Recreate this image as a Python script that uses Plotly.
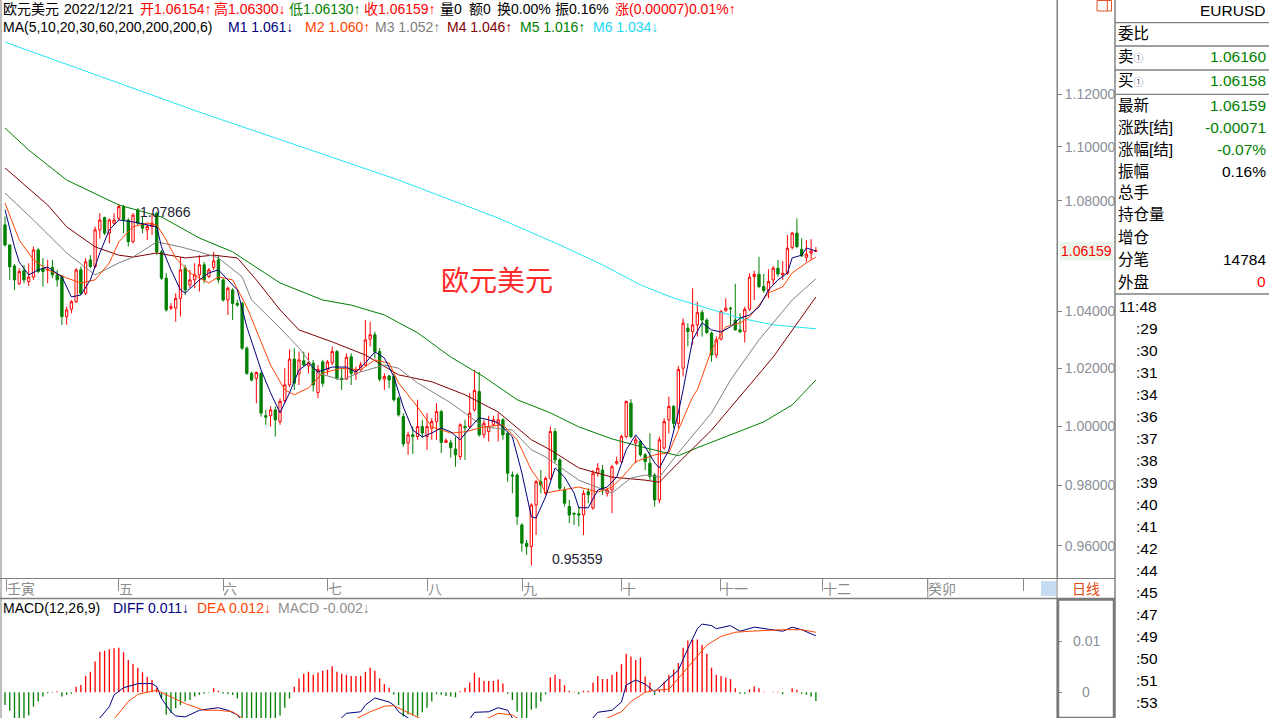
import math
import plotly.graph_objects as go

# ---------------- data (daily EURUSD) ----------------
open_ = [1.0711, 1.0638, 1.0562, 1.0498, 1.0545, 1.0506, 1.0522, 1.0620, 1.0554, 1.0547,
         1.0557, 1.0530, 1.0524, 1.0381, 1.0407, 1.0434, 1.0548, 1.0464, 1.0584, 1.0560,
         1.0693, 1.0738, 1.0681, 1.0717, 1.0735, 1.0778, 1.0729, 1.0650, 1.0766, 1.0717,
         1.0693, 1.0705, 1.0754, 1.0613, 1.0518, 1.0411, 1.0411, 1.0446, 1.0554, 1.0494,
         1.0512, 1.0530, 1.0566, 1.0524, 1.0557, 1.0584, 1.0512, 1.0440, 1.0476, 1.0428,
         1.0428, 1.0270, 1.0182, 1.0165, 1.0182, 1.0036, 1.0036, 1.0056, 1.0016, 1.0088,
         1.0142, 1.0232, 1.0180, 1.0226, 1.0208, 1.0217, 1.0116, 1.0222, 1.0194, 1.0219,
         1.0258, 1.0165, 1.0162, 1.0240, 1.0180, 1.0194, 1.0211, 1.0302, 1.0317, 1.0258,
         1.0162, 1.0173, 1.0171, 1.0096, 1.0033, 0.9943, 0.9971, 0.9965, 0.9999, 0.9965,
         0.9993, 1.0016, 1.0050, 0.9945, 0.9944, 0.9923, 0.9897, 0.9999, 0.9999, 1.0056,
         1.0119, 0.9971, 0.9982, 1.0005, 1.0008, 1.0022, 0.9976, 0.9835, 0.9835, 0.9669,
         0.9609, 0.9598, 0.9735, 0.9813, 0.9774, 0.9824, 0.9982, 0.9886, 0.9785, 0.9730,
         0.9708, 0.9706, 0.9702, 0.9779, 0.9725, 0.9841, 0.9852, 0.9774, 0.9785, 0.9875,
         0.9880, 0.9965, 1.0079, 0.9943, 0.9948, 0.9903, 0.9875, 0.9835, 0.9752, 0.9926,
         1.0022, 1.0068, 1.0010, 1.0200, 1.0340, 1.0328, 1.0352, 1.0396, 1.0369, 1.0323,
         1.0246, 1.0302, 1.0402, 1.0411, 1.0369, 1.0334, 1.0328, 1.0407, 1.0524, 1.0532,
         1.0488, 1.0474, 1.0512, 1.0554, 1.0530, 1.0536, 1.0629, 1.0681, 1.0622, 1.0593,
         1.0608, 1.06154]
high = [1.0741, 1.0640, 1.0569, 1.0554, 1.0566, 1.0572, 1.0632, 1.0626, 1.0590, 1.0584,
        1.0584, 1.0548, 1.0530, 1.0416, 1.0440, 1.0554, 1.0560, 1.0590, 1.0601, 1.0705,
        1.0754, 1.0741, 1.0735, 1.0754, 1.07866, 1.0784, 1.0735, 1.0754, 1.0772, 1.0741,
        1.0717, 1.0754, 1.0759, 1.0620, 1.0536, 1.0429, 1.0464, 1.0595, 1.0566, 1.0548,
        1.0572, 1.0601, 1.0577, 1.0554, 1.0613, 1.0601, 1.0518, 1.0488, 1.0482, 1.0440,
        1.0434, 1.0276, 1.0188, 1.0188, 1.0188, 1.0056, 1.0068, 1.0068, 1.0096, 1.0200,
        1.0266, 1.0270, 1.0258, 1.0258, 1.0254, 1.0229, 1.0211, 1.0229, 1.0229, 1.0276,
        1.0264, 1.0200, 1.0252, 1.0252, 1.0205, 1.0222, 1.0369, 1.0363, 1.0328, 1.0270,
        1.0182, 1.0177, 1.0182, 1.0102, 1.0045, 0.9982, 0.9999, 1.0091, 1.0022, 1.0045,
        1.0028, 1.0079, 1.0056, 0.9959, 0.9954, 0.9965, 1.0010, 1.0022, 1.0114, 1.0194,
        1.0188, 1.0022, 1.0036, 1.0036, 1.0045, 1.0028, 0.9982, 0.9847, 0.9841, 0.9675,
        0.9620, 0.9741, 0.9818, 0.9852, 0.9830, 0.9999, 0.9993, 0.9892, 0.9796, 0.9752,
        0.9709, 0.9730, 0.9785, 0.9791, 0.9852, 0.9875, 0.9869, 0.9791, 0.9869, 0.9897,
        0.9971, 1.0088, 1.0093, 0.9965, 0.9954, 0.9909, 0.9976, 0.9841, 0.9965, 1.0028,
        1.0102, 1.0073, 1.0207, 1.0375, 1.0358, 1.0482, 1.0434, 1.0405, 1.0375, 1.0328,
        1.0311, 1.0405, 1.0446, 1.0416, 1.0498, 1.0393, 1.0416, 1.0536, 1.0545, 1.0595,
        1.0533, 1.0550, 1.0562, 1.0584, 1.0580, 1.0674, 1.0686, 1.0735, 1.0662, 1.0656,
        1.0659, 1.06300]
low = [1.0632, 1.0512, 1.0476, 1.0494, 1.0500, 1.0490, 1.0512, 1.0536, 1.0488, 1.0500,
       1.0518, 1.0488, 1.0352, 1.0352, 1.0393, 1.0429, 1.0458, 1.0458, 1.0554, 1.0554,
       1.0662, 1.0674, 1.0644, 1.0711, 1.0726, 1.0681, 1.0632, 1.0644, 1.0711, 1.0681,
       1.0656, 1.0674, 1.0601, 1.0512, 1.0399, 1.0405, 1.0363, 1.0381, 1.0458, 1.0482,
       1.0482, 1.0470, 1.0500, 1.0518, 1.0548, 1.0500, 1.0434, 1.0387, 1.0369, 1.0416,
       1.0264, 1.0177, 1.0154, 1.0079, 1.0033, 1.0005, 0.9999, 0.9965, 1.0005, 1.0079,
       1.0134, 1.0125, 1.0142, 1.0208, 1.0182, 1.0119, 1.0096, 1.0136, 1.0177, 1.0211,
       1.0159, 1.0125, 1.0159, 1.0142, 1.0159, 1.0188, 1.0205, 1.0276, 1.0234, 1.0154,
       1.0125, 1.0131, 1.0085, 1.0033, 0.9931, 0.9903, 0.9906, 0.9954, 0.9960, 0.9920,
       0.9954, 0.9954, 0.9909, 0.9943, 0.9893, 0.9863, 0.9886, 0.9886, 0.9993, 1.0050,
       0.9965, 0.9959, 0.9948, 0.9999, 0.9948, 0.9954, 0.9813, 0.9774, 0.9669, 0.9581,
       0.9571, 0.95359, 0.9636, 0.9774, 0.9769, 0.9818, 0.9875, 0.9785, 0.9730, 0.9675,
       0.9669, 0.9664, 0.9636, 0.9741, 0.9719, 0.9830, 0.9769, 0.9763, 0.9708, 0.9869,
       0.9875, 0.9959, 0.9959, 0.9875, 0.9897, 0.9852, 0.9818, 0.9730, 0.9741, 0.9920,
       0.9976, 0.9993, 0.9994, 1.0171, 1.0276, 1.0282, 1.0311, 1.0311, 1.0320, 1.0223,
       1.0235, 1.0297, 1.0399, 1.0352, 1.0332, 1.0323, 1.0290, 1.0402, 1.0440, 1.0482,
       1.0466, 1.0446, 1.0494, 1.0524, 1.0512, 1.0530, 1.0622, 1.0626, 1.0595, 1.0577,
       1.0584, 1.06130]
close = [1.0638, 1.0559, 1.0512, 1.0542, 1.0512, 1.0522, 1.0620, 1.0542, 1.0542, 1.0549,
         1.0530, 1.0512, 1.0381, 1.0405, 1.0434, 1.0548, 1.0464, 1.0577, 1.0560, 1.0693,
         1.0729, 1.0681, 1.0729, 1.0729, 1.0778, 1.0729, 1.0650, 1.0747, 1.0717, 1.0699,
         1.0705, 1.0717, 1.0613, 1.0518, 1.0405, 1.0416, 1.0446, 1.0548, 1.0476, 1.0512,
         1.0530, 1.0566, 1.0512, 1.0548, 1.0580, 1.0512, 1.0440, 1.0482, 1.0428, 1.0422,
         1.0270, 1.0182, 1.0159, 1.0185, 1.0045, 1.0031, 1.0056, 1.0022, 1.0085, 1.0142,
         1.0232, 1.0148, 1.0229, 1.0211, 1.0219, 1.0142, 1.0196, 1.0148, 1.0222, 1.0258,
         1.0165, 1.0162, 1.0238, 1.0182, 1.0191, 1.0211, 1.0299, 1.0317, 1.0258, 1.0162,
         1.0171, 1.0159, 1.0091, 1.0039, 0.9940, 0.9971, 0.9965, 0.9999, 0.9977, 0.9999,
         1.0016, 1.0050, 0.9945, 0.9951, 0.9927, 0.9903, 1.0005, 0.9995, 1.0045, 1.0123,
         0.9971, 1.0010, 0.9999, 1.0022, 1.0022, 0.9971, 0.9841, 0.9832, 0.9697, 0.9609,
         0.9598, 0.9735, 0.9813, 0.9802, 0.9824, 0.9982, 0.9886, 0.9791, 0.9741, 0.9702,
         0.9705, 0.9702, 0.9774, 0.9769, 0.9841, 0.9858, 0.9785, 0.9785, 0.9863, 0.9880,
         0.9965, 1.0085, 0.9965, 0.9954, 0.9903, 0.9880, 0.9830, 0.9752, 0.9954, 1.0016,
         1.0068, 1.0010, 1.0196, 1.0358, 1.0328, 1.0352, 1.0395, 1.0369, 1.0325, 1.0246,
         1.0299, 1.0399, 1.0411, 1.0409, 1.0334, 1.0328, 1.0407, 1.0522, 1.0532, 1.0488,
         1.0474, 1.0506, 1.0554, 1.0533, 1.0536, 1.0626, 1.0681, 1.0632, 1.0598, 1.0605,
         1.0616, 1.06159]

# moving averages, read at sample bars (bar index, value)
ma5_idx = [0, 2, 3, 5, 7, 9, 12, 14, 16, 18, 20, 22, 24, 27, 30, 32, 33, 35, 37, 38,
           41, 43, 45, 47, 49, 51, 54, 56, 58, 60, 62, 64, 66, 69, 72, 74, 76, 78, 80, 82,
           84, 86, 88, 90, 92, 94, 96, 98, 100, 102, 104, 107, 109, 111, 112, 114, 116, 118, 120, 121,
           123, 125, 127, 129, 131, 133, 135, 137, 138, 140, 142, 143, 145, 147, 149, 151, 153, 155, 157, 159,
           161, 163, 165, 166, 168, 169, 171]
ma5_val = [1.0766, 1.0631, 1.0576, 1.0530, 1.0548, 1.0558, 1.0523, 1.0451, 1.0458, 1.0512,
           1.0609, 1.0693, 1.0729, 1.0722, 1.0711, 1.0704, 1.0631, 1.0548, 1.0476, 1.0465,
           1.0512, 1.0537, 1.0548, 1.0512, 1.0476, 1.0345, 1.0194, 1.0115, 1.0046, 1.0115,
           1.0194, 1.0218, 1.0187, 1.0204, 1.0204, 1.0187, 1.0218, 1.0257, 1.0236, 1.0170,
           1.0066, 0.9987, 0.9964, 0.9977, 0.9994, 0.9981, 0.9954, 0.9994, 1.0029, 1.0022,
           1.0012, 0.9964, 0.9842, 0.9696, 0.9692, 0.9762, 0.9859, 0.9828, 0.9775, 0.9726,
           0.9726, 0.9785, 0.9795, 0.9828, 0.9920, 0.9971, 0.9930, 0.9876, 0.9859, 0.9920,
           1.0046, 1.0125, 1.0299, 1.0359, 1.0334, 1.0327, 1.0345, 1.0376, 1.0387, 1.0415,
           1.0476, 1.0512, 1.0537, 1.0591, 1.0601, 1.0627, 1.0616]
ma10_idx = [0, 3, 6, 9, 13, 16, 19, 22, 24, 27, 30, 32, 34, 36, 39, 43, 45, 48, 51, 54,
            56, 59, 61, 64, 67, 71, 75, 78, 81, 83, 87, 90, 94, 97, 101, 105, 108, 111, 113, 114,
            118, 121, 125, 128, 130, 133, 137, 140, 142, 145, 146, 149, 152, 155, 157, 161, 164, 166, 169, 171]
ma10_val = [1.0791, 1.0656, 1.0584, 1.0548, 1.0519, 1.0501, 1.0512, 1.0573, 1.0649, 1.0704,
            1.0718, 1.0711, 1.0656, 1.0591, 1.0537, 1.0501, 1.0523, 1.0512, 1.0415, 1.0289,
            1.0211, 1.0125, 1.0108, 1.0132, 1.0183, 1.0200, 1.0194, 1.0229, 1.0218, 1.0149,
            1.0066, 0.9998, 0.9977, 0.9981, 0.9998, 1.0005, 0.9954, 0.9852, 0.9808, 0.9775,
            0.9785, 0.9795, 0.9778, 0.9795, 0.9825, 0.9880, 0.9903, 0.9910, 0.9987, 1.0101,
            1.0125, 1.0264, 1.0345, 1.0359, 1.0380, 1.0465, 1.0487, 1.0537, 1.0573, 1.0594]
ma20_idx = [0, 6, 13, 19, 24, 27, 32, 37, 41, 45, 50, 52, 58, 62, 66, 71, 75, 80, 83, 87,
            94, 101, 107, 111, 114, 121, 128, 132, 135, 138, 142, 149, 153, 159, 166, 171]
ma20_val = [1.0828, 1.0729, 1.0609, 1.0530, 1.0573, 1.0594, 1.0649, 1.0631, 1.0613, 1.0591,
            1.0523, 1.0440, 1.0341, 1.0271, 1.0183, 1.0159, 1.0187, 1.0211, 1.0200, 1.0149,
            1.0080, 0.9998, 0.9987, 0.9920, 0.9896, 0.9818, 0.9775, 0.9825, 0.9835, 0.9828,
            0.9910, 1.0046, 1.0159, 1.0299, 1.0440, 1.0516]
ma30_idx = [0, 3, 9, 13, 19, 24, 27, 32, 38, 44, 49, 53, 58, 62, 69, 76, 83, 90, 97, 104,
            111, 115, 121, 128, 135, 138, 142, 149, 157, 162, 171]
ma30_val = [1.0921, 1.0876, 1.0784, 1.0704, 1.0631, 1.0601, 1.0594, 1.0609, 1.0591, 1.0601,
            1.0591, 1.0512, 1.0405, 1.0334, 1.0292, 1.0246, 1.0177, 1.0153, 1.0108, 1.0049,
            0.9954, 0.9920, 0.9859, 0.9828, 0.9818, 0.9811, 0.9876, 0.9987, 1.0142, 1.0239,
            1.0451]
ma60_idx = [0, 5, 13, 24, 33, 41, 48, 58, 67, 73, 80, 87, 94, 101, 108, 115, 121, 128, 135, 142,
            146, 153, 160, 166, 171]
ma60_val = [1.1071, 1.0988, 1.0876, 1.0784, 1.0740, 1.0663, 1.0613, 1.0501, 1.0440, 1.0422,
            1.0387, 1.0324, 1.0239, 1.0170, 1.0091, 1.0046, 0.9998, 0.9957, 0.9927, 0.9900,
            0.9927, 0.9971, 1.0015, 1.0073, 1.0159]
ma200_idx = [0, 20, 41, 62, 83, 104, 117, 126, 134, 141, 148, 155, 162, 171]
ma200_val = [1.1400, 1.1269, 1.1131, 1.1003, 1.0876, 1.0736, 1.0638, 1.0566, 1.0494, 1.0447,
             1.0411, 1.0376, 1.0352, 1.0338]

# MACD(12,26,9)
macd_hist = [-0.0025, -0.0036, -0.0056, -0.0058, -0.0053, -0.0045, -0.0028, -0.0018, -0.0008, -0.0002,
             -0.0001, 0.0002, -0.0008, -0.0005, -0.0003, 0.0011, 0.0014, 0.0032, 0.0040, 0.0060,
             0.0079, 0.0081, 0.0084, 0.0086, 0.0087, 0.0078, 0.0063, 0.0055, 0.0048, 0.0039,
             0.0030, 0.0024, 0.0008, -0.0012, -0.0044, -0.0041, -0.0031, -0.0025, -0.0018, -0.0015,
             -0.0008, -0.0005, -0.0003, -0.0001, 0.0008, 0.0003, -0.0003, -0.0004, -0.0005, -0.0012,
             -0.0050, -0.0058, -0.0064, -0.0066, -0.0070, -0.0070, -0.0062, -0.0055, -0.0045, -0.0030,
             -0.0012, 0.0011, 0.0027, 0.0036, 0.0040, 0.0034, 0.0038, 0.0042, 0.0044, 0.0051,
             0.0040, 0.0036, 0.0034, 0.0032, 0.0032, 0.0032, 0.0040, 0.0048, 0.0042, 0.0027,
             0.0016, 0.0009, -0.0005, -0.0025, -0.0047, -0.0043, -0.0045, -0.0047, -0.0039, -0.0030,
             -0.0018, -0.0004, -0.0005, -0.0007, -0.0008, -0.0010, 0.0002, 0.0009, 0.0019, 0.0038,
             0.0029, 0.0022, 0.0022, 0.0022, 0.0025, 0.0017, -0.0003, -0.0015, -0.0038, -0.0055,
             -0.0055, -0.0034, -0.0031, -0.0018, -0.0004, 0.0029, 0.0034, 0.0026, 0.0014, 0.0003,
             0.0001, -0.0004, 0.0003, 0.0003, 0.0019, 0.0032, 0.0026, 0.0026, 0.0034, 0.0040,
             0.0055, 0.0075, 0.0070, 0.0063, 0.0068, 0.0031, 0.0019, -0.0005, 0.0005, 0.0021,
             0.0034, 0.0044, 0.0057, 0.0087, 0.0101, 0.0102, 0.0103, 0.0092, 0.0075, 0.0048,
             0.0034, 0.0032, 0.0029, 0.0026, 0.0008, -0.0003, -0.0003, 0.0006, 0.0012, 0.0008,
             0.0001, 0.0000, 0.0001, 0.0001, -0.0004, 0.0000, 0.0008, 0.0005, -0.0003, -0.0005,
             -0.0008, -0.0017]
diff_idx = [0, 5, 10, 15, 20, 22, 23, 25, 27, 28, 31, 32, 33, 35, 36, 38, 41, 45, 47, 49,
            52, 56, 60, 65, 70, 72, 75, 76, 78, 81, 82, 83, 85, 88, 93, 98, 99, 102, 104, 106,
            107, 110, 114, 118, 122, 124, 125, 128, 130, 131, 133, 135, 137, 140, 142, 144, 146, 147, 149, 150,
            153, 155, 157, 158, 161, 164, 166, 168, 171]
diff_val = [-0.0080, -0.0100, -0.0098, -0.0085, -0.0050, -0.0028, -0.0005, 0.0009, 0.0014, 0.0017,
            0.0017, 0.0011, -0.0012, -0.0038, -0.0046, -0.0048, -0.0035, -0.0030, -0.0035, -0.0044,
            -0.0080, -0.0100, -0.0095, -0.0075, -0.0058, -0.0041, -0.0038, -0.0025, -0.0011, -0.0019,
            -0.0025, -0.0038, -0.0050, -0.0065, -0.0065, -0.0052, -0.0039, -0.0038, -0.0030, -0.0035,
            -0.0050, -0.0080, -0.0085, -0.0075, -0.0065, -0.0050, -0.0039, -0.0035, -0.0019, 0.0014,
            0.0024, 0.0016, 0.0001, 0.0027, 0.0043, 0.0085, 0.0124, 0.0133, 0.0130, 0.0124,
            0.0130, 0.0119, 0.0124, 0.0127, 0.0123, 0.0119, 0.0127, 0.0122, 0.0110]
dea_idx = [0, 5, 10, 15, 20, 23, 26, 28, 32, 35, 38, 42, 45, 48, 50, 54, 58, 62, 66, 70,
           74, 77, 80, 82, 84, 87, 90, 94, 98, 102, 104, 107, 108, 112, 116, 120, 124, 127, 130, 132,
           135, 137, 140, 142, 145, 148, 151, 154, 157, 161, 164, 168, 171]
dea_val = [-0.0068, -0.0078, -0.0090, -0.0092, -0.0075, -0.0052, -0.0018, -0.0004, 0.0004, -0.0009,
           -0.0022, -0.0035, -0.0035, -0.0038, -0.0050, -0.0070, -0.0085, -0.0088, -0.0080, -0.0068,
           -0.0052, -0.0038, -0.0027, -0.0026, -0.0035, -0.0050, -0.0062, -0.0060, -0.0056, -0.0050,
           -0.0041, -0.0044, -0.0050, -0.0070, -0.0078, -0.0070, -0.0062, -0.0050, -0.0038, -0.0018,
           0.0000, 0.0004, 0.0006, 0.0027, 0.0060, 0.0092, 0.0109, 0.0117, 0.0119, 0.0121,
           0.0122, 0.0122, 0.0117]

# axis tick values / labels
price_ticks = [0.96, 0.98, 1.00, 1.02, 1.04, 1.08, 1.10, 1.12]
macd_ticks = [0, 0.01]
month_labels = ["壬寅", "五", "六", "七", "八", "九", "十", "十一", "十二", "癸卯", ""]
month_ticks = [0.4, 24.0, 46.0, 68.1, 89.2, 109.2, 130.1, 150.8, 172.4, 194.6, 214.7]

# header texts: (text, colour)
header_row1 = [("欧元美元", "#000000"), ("2022/12/21", "#000000"), ("开1.06154↑", "#ff0000"),
               ("高1.06300↓", "#ff0000"), ("低1.06130↑", "#008000"), ("收1.06159↑", "#ff0000"),
               ("量0", "#000000"), ("额0", "#000000"), ("换0.00%", "#000000"), ("振0.16%", "#000000"),
               ("涨(0.00007)0.01%↑", "#ff0000")]
header_row2 = [("MA(5,10,20,30,60,200,200,200,6)", "#000000"), ("M1 1.061↓", "#000080"),
               ("M2 1.060↑", "#ff4500"), ("M3 1.052↑", "#808080"), ("M4 1.046↑", "#800000"),
               ("M5 1.016↑", "#008000"), ("M6 1.034↓", "#22d8f0")]
header_macd = [("MACD(12,26,9)", "#000000"), ("DIFF 0.011↓", "#000080"),
               ("DEA 0.012↓", "#ff4500"), ("MACD -0.002↓", "#909090")]

# right-hand quote panel
panel_labels = ["委比", "卖①", "买①", "最新", "涨跌[结]", "涨幅[结]", "振幅", "总手", "持仓量", "增仓", "分笔", "外盘"]
panel_values = ["", "1.06160", "1.06158", "1.06159", "-0.00071", "-0.07%", "0.16%", "", "", "", "14784", "0"]
panel_value_colors = ["#000", "#008000", "#008000", "#008000", "#008000", "#008000", "#000000",
                      "#000", "#000", "#000", "#000000", "#ff0000"]
tick_times = ["11:48", ":29", ":30", ":31", ":34", ":36", ":37", ":38", ":39", ":40", ":41",
              ":42", ":44", ":45", ":47", ":49", ":50", ":51", ":53"]

# ---------------- geometry / style ----------------
W, H = 1269, 718
PLOT_R = 1057          # right edge of the chart panes (px)
PANEL_L = 1115         # left edge of quote panel (px)
PRICE_BOTTOM = 578     # bottom of price pane (px)
STRIP_BOTTOM = 598     # bottom of date strip / top of MACD pane (px)
BAR_PX = 4.742
FIRST_PX = 5
FONT = "Liberation Sans, Arial, Noto Sans CJK SC, sans-serif"
GRAY = "#808080"
ROW1_X = [3, 64, 140, 214, 289, 364, 440, 469, 497, 555, 615]
ROW2_X = [3, 228, 305, 375, 447, 520, 593]
MACD_X = [3, 113, 197, 278]

n = len(close)
bars = list(range(n))
x_range = [-FIRST_PX / BAR_PX, (PLOT_R - FIRST_PX) / BAR_PX]


def px(x):
    return x / W


def py(y):
    return 1 - y / H


fig = go.Figure()

fig.add_trace(go.Candlestick(
    x=bars, open=open_, high=high, low=low, close=close,
    increasing=dict(line=dict(color="#ff0000", width=1), fillcolor="#ffffff"),
    decreasing=dict(line=dict(color="#008000", width=1), fillcolor="#008000"),
    whiskerwidth=0, xaxis="x", yaxis="y", hoverinfo="skip"))

ma_specs = [
    (ma200_idx, ma200_val, "#22e6f2"),
    (ma60_idx, ma60_val, "#008000"),
    (ma30_idx, ma30_val, "#800000"),
    (ma20_idx, ma20_val, "#808080"),
    (ma10_idx, ma10_val, "#ff4500"),
    (ma5_idx, ma5_val, "#000080"),
]
for xi, yv, col in ma_specs:
    fig.add_trace(go.Scatter(x=xi, y=yv, mode="lines", line=dict(color=col, width=1),
                             xaxis="x", yaxis="y", hoverinfo="skip"))

fig.add_trace(go.Bar(
    x=bars, y=macd_hist, width=0.28,
    marker=dict(color=["#ff0000" if v >= 0 else "#008000" for v in macd_hist], line=dict(width=0)),
    xaxis="x2", yaxis="y2", hoverinfo="skip"))
fig.add_trace(go.Scatter(x=diff_idx, y=diff_val, mode="lines", line=dict(color="#000080", width=1),
                         xaxis="x2", yaxis="y2", hoverinfo="skip"))
fig.add_trace(go.Scatter(x=dea_idx, y=dea_val, mode="lines", line=dict(color="#ff4500", width=1),
                         xaxis="x2", yaxis="y2", hoverinfo="skip"))

fig.update_layout(
    width=W, height=H, margin=dict(l=0, r=0, t=0, b=0),
    paper_bgcolor="white", plot_bgcolor="white", showlegend=False,
    font=dict(family=FONT, size=14, color="#000"),
    xaxis=dict(domain=[0, px(PLOT_R)], range=x_range, anchor="y", showgrid=False, zeroline=False,
               showline=False, ticks="outside", ticklen=12, tickwidth=1, tickcolor="#8c8c8c",
               tickmode="array", tickvals=month_ticks, showticklabels=False,
               rangeslider=dict(visible=False), fixedrange=True),
    yaxis=dict(domain=[py(PRICE_BOTTOM), 1], type="log", range=[-0.022474, 0.063142], side="right",
               anchor="x", showgrid=False, zeroline=False, showline=True, linecolor=GRAY, linewidth=1,
               ticks="outside", ticklen=4, tickcolor=GRAY, tickmode="array", tickvals=price_ticks,
               ticktext=[f"{v:.5f}" for v in price_ticks],
               tickfont=dict(size=14, color="#8a8f99"), fixedrange=True),
    xaxis2=dict(domain=[0, px(PLOT_R)], range=x_range, anchor="y2", showgrid=False, zeroline=False,
                showline=False, showticklabels=False, ticks=""),
    yaxis2=dict(domain=[0, py(STRIP_BOTTOM)], range=[-0.005010, 0.018382], side="right", anchor="x2",
                showgrid=False, zeroline=False, showline=False, ticks="outside", ticklen=4,
                tickcolor=GRAY, tickmode="array", tickvals=macd_ticks, showticklabels=False),
)

shapes = []
def pline(x0, y0, x1, y1, color=GRAY, width=1):
    shapes.append(dict(type="line", xref="paper", yref="paper", x0=px(x0), y0=py(y0),
                       x1=px(x1), y1=py(y1), line=dict(color=color, width=width)))

pline(1, 0, 1, H)                       # left border
pline(PLOT_R, 0, PLOT_R, H)             # chart right border
pline(PANEL_L, 0, PANEL_L, H, width=1.5)
pline(0, 578.5, PANEL_L, 578.5)
pline(0, 598.5, PANEL_L, 598.5, width=1.5)
for yy in [22.7, 46, 70, 94.3, 294]:
    pline(PANEL_L, yy, W, yy, color="#7f7f7f", width=1.3)
# MACD axis box
shapes.append(dict(type="rect", xref="paper", yref="paper", x0=px(PLOT_R + 1), x1=px(PANEL_L - 1),
                   y0=py(H), y1=py(599.5), line=dict(color="#7a7a7a", width=2.5)))
# scroll marker in date strip
shapes.append(dict(type="rect", xref="paper", yref="paper", x0=px(1041), x1=px(PLOT_R - 1),
                   y0=py(596), y1=py(581), line=dict(width=0), fillcolor="#c6dcf2"))
# year separator in date strip
shapes.append(dict(type="line", xref="x", yref="paper", x0=month_ticks[9], x1=month_ticks[9],
                   y0=py(578.5), y1=py(598.5), line=dict(color="#8c8c8c", width=1)))
# small icon top-right of price axis
shapes.append(dict(type="rect", xref="paper", yref="paper", x0=px(1097), x1=px(1111.5),
                   y0=py(11), y1=py(0.5), line=dict(color="#e0522a", width=1)))
pline(1107.3, 0.5, 1107.3, 11, color="#e0522a")

# high / low markers
hi_i = max(range(n), key=lambda i: high[i])
lo_i = min(range(n), key=lambda i: low[i])
for idx_, val in [(hi_i, high[hi_i]), (lo_i, low[lo_i])]:
    ly = math.log10(val)
    shapes.append(dict(type="line", xref="x", yref="y", xsizemode="pixel", xanchor=idx_,
                       x0=0, x1=18, y0=ly, y1=ly, line=dict(color="#000", width=1)))

annotations = []
def txt(x, y, s, color="#000", size=14, xanchor="left", **kw):
    annotations.append(dict(x=px(x), y=py(y), xref="paper", yref="paper", text=s, showarrow=False,
                            xanchor=xanchor, yanchor="middle", font=dict(color=color, size=size),
                            borderpad=0, **kw))

for idx_, val, ysh in [(hi_i, high[hi_i], -8), (lo_i, low[lo_i], 7)]:
    annotations.append(dict(x=idx_, y=math.log10(val), xref="x", yref="y", text=f"{val:.5f}",
                            showarrow=False, xanchor="left", yanchor="middle", xshift=19, yshift=ysh,
                            font=dict(color="#222233", size=14)))

# header rows
for (s, c), xx in zip(header_row1, ROW1_X):
    txt(xx - 1, 9, s, color=c)
for (s, c), xx in zip(header_row2, ROW2_X):
    txt(xx - 1, 27, s, color=c)
for (s, c), xx in zip(header_macd, MACD_X):
    txt(xx - 1, 608, s, color=c)

# watermark title
txt(497, 281, "欧元美元", color="#ff2a2a", size=28, xanchor="center")

# date strip labels
for lab, pos in zip(month_labels, month_ticks):
    if lab:
        annotations.append(dict(x=pos, y=py(588.5), xref="x", yref="paper", text=lab, showarrow=False,
                                xanchor="left", yanchor="middle", xshift=-1, borderpad=0,
                                font=dict(color="#8c8c8c", size=14)))
txt(1086, 588.5, "日线", color="#e04810", size=14, xanchor="center")

# MACD axis labels
for v in macd_ticks:
    annotations.append(dict(x=px(1086), y=v, xref="paper", yref="y2", text=f"{v:g}", showarrow=False,
                            xanchor="center", yanchor="middle", font=dict(color="#8a8f99", size=14)))

# last price label
annotations.append(dict(x=px(1059), y=math.log10(close[-1]), xref="paper", yref="y",
                        text=f"{close[-1]:.5f}", showarrow=False, xanchor="left", yanchor="middle",
                        bgcolor="#eaf4ea", borderpad=1, font=dict(color="#ff0000", size=14)))

# quote panel
txt(1266, 11, "EURUSD", size=15.5, xanchor="right")
row_y = [33.3, 56.7, 81, 105, 127.7, 149.3, 171.7, 192.7, 215, 237.7, 259.3, 281.7]
for lab, val, col, yy in zip(panel_labels, panel_values, panel_value_colors, row_y):
    lab_html = lab.replace("①", "<span style='font-size:10px;color:#50507a'>①</span>")
    txt(1117, yy, lab_html, size=15.5)
    if val:
        txt(1267, yy, val, color=col, size=15.5, xanchor="right")
for k, t in enumerate(tick_times):
    txt(1118 if k == 0 else 1135, 306 + 22.04 * k, t, size=15.5)

fig.update_layout(shapes=shapes, annotations=annotations)

fig.write_html("out.html", config={"staticPlot": True, "displayModeBar": False},
               post_script="document.body.style.margin='0';document.body.style.overflow='hidden';")
